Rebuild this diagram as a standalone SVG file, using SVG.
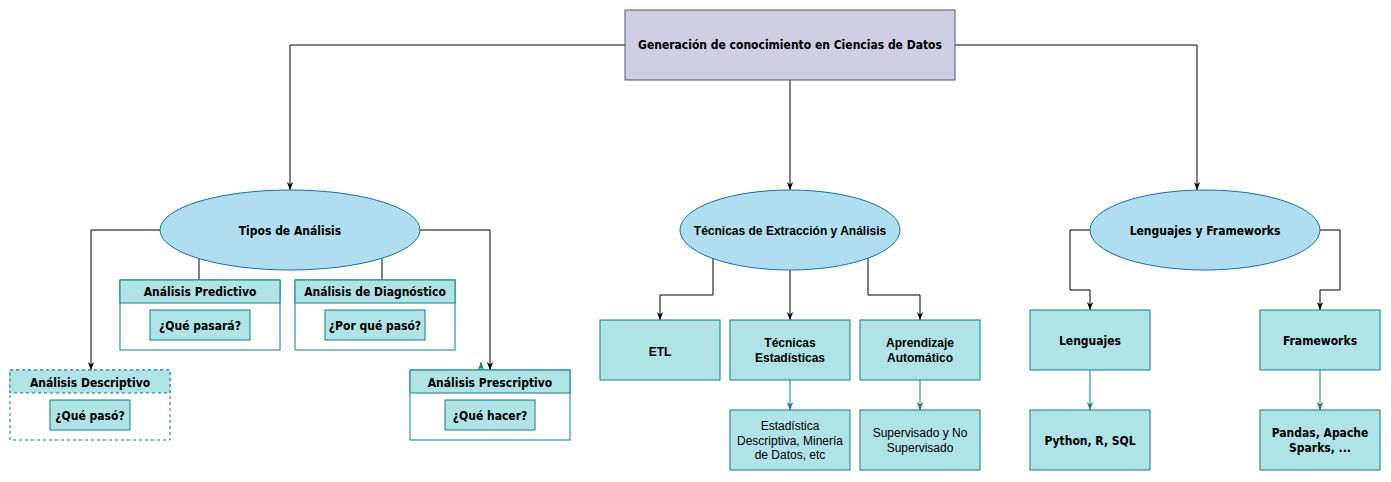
<svg xmlns="http://www.w3.org/2000/svg" width="1391" height="482" viewBox="0 0 1391 482">
<defs>
<marker id="ab" viewBox="0 0 10 10" refX="10" refY="5" markerWidth="8" markerHeight="8" markerUnits="userSpaceOnUse" orient="auto"><path d="M0,1 L10,5 L0,9 L3,5 z" fill="#000"/></marker>
<marker id="at" viewBox="0 0 10 10" refX="10" refY="5" markerWidth="8" markerHeight="8" markerUnits="userSpaceOnUse" orient="auto"><path d="M0,1 L10,5 L0,9 L3,5 z" fill="#0e8088"/></marker>
</defs>
<style>
.e{fill:none;stroke:#000;stroke-width:1}
.et{fill:none;stroke:#0e8088;stroke-width:1}
.ell{fill:#b1ddf0;stroke:#10739e;stroke-width:1}
.box{fill:#b0e3e6;stroke:#0e8088;stroke-width:1}
.body{fill:#fff;stroke:#0e8088;stroke-width:1}
.top{fill:#d0cee2;stroke:#56517e;stroke-width:1}
.t{font-family:"DejaVu Sans Condensed","DejaVu Sans",sans-serif;font-weight:bold;font-size:12px;fill:#000;text-anchor:middle;dominant-baseline:central}
.a{font-family:"Liberation Sans",Arial,sans-serif;font-weight:bold;font-size:12px;fill:#000;text-anchor:middle;dominant-baseline:central}
.r{font-family:"Liberation Sans",Arial,sans-serif;font-size:12px;fill:#000;text-anchor:middle;dominant-baseline:central}
</style>
<rect width="1391" height="482" fill="#fff"/>
<g id="connectors">
<path class="e" d="M625,45 H290 V190" marker-end="url(#ab)"/>
<path class="e" d="M790,80 V190" marker-end="url(#ab)"/>
<path class="e" d="M955,45 H1197 V190" marker-end="url(#ab)"/>
<path class="e" d="M160,230 H91 V370" marker-end="url(#ab)"/>
<path class="e" d="M420,230 H490 V370" marker-end="url(#ab)"/>
<path class="e" d="M199,258.6 V280"/>
<path class="e" d="M382,258.2 V280"/>
<path class="et" d="M481,370 V362" marker-end="url(#at)"/>
<path class="e" d="M713,258.5 V295 H660 V320" marker-end="url(#ab)"/>
<path class="e" d="M790,270 V320" marker-end="url(#ab)"/>
<path class="e" d="M868,258.2 V295 H920 V320" marker-end="url(#ab)"/>
<path class="et" d="M790,380 V410" marker-end="url(#at)"/>
<path class="et" d="M920,380 V410" marker-end="url(#at)"/>
<path class="e" d="M1090,230 H1070 V290 H1090 V310" marker-end="url(#ab)"/>
<path class="e" d="M1320,230 H1340 V290 H1320 V310" marker-end="url(#ab)"/>
<path class="et" d="M1090,370 V410" marker-end="url(#at)"/>
<path class="et" d="M1320,370 V410" marker-end="url(#at)"/>
</g>
<g id="root">
<rect class="top" x="625" y="10" width="330" height="70"/>
<text class="t" x="790" y="45">Generación de conocimiento en Ciencias de Datos</text>
</g>
<g id="tipos">
<ellipse class="ell" cx="290" cy="230" rx="130" ry="40"/>
<text class="t" x="290" y="231">Tipos de Análisis</text>
</g>
<g id="predictivo">
<rect class="body" x="120" y="280" width="160" height="70"/>
<rect class="box" x="120" y="280" width="160" height="23"/>
<text class="t" x="200" y="292">Análisis Predictivo</text>
<rect class="box" x="150" y="310" width="100" height="30"/>
<text class="t" x="200" y="326">¿Qué pasará?</text>
</g>
<g id="diagnostico">
<rect class="body" x="295" y="280" width="160" height="70"/>
<rect class="box" x="295" y="280" width="160" height="23"/>
<text class="t" x="375" y="292">Análisis de Diagnóstico</text>
<rect class="box" x="325" y="310" width="100" height="30"/>
<text class="t" x="375" y="326">¿Por qué pasó?</text>
</g>
<g id="descriptivo">
<rect x="10" y="370" width="160" height="70" fill="#fff" stroke="#0e8088" stroke-dasharray="3,3"/>
<rect x="10" y="370" width="160" height="23" fill="#b0e3e6" stroke="#0e8088" stroke-dasharray="3,3"/>
<text class="t" x="90" y="383">Análisis Descriptivo</text>
<rect class="box" x="50" y="400" width="80" height="30"/>
<text class="t" x="90" y="416">¿Qué pasó?</text>
</g>
<g id="prescriptivo">
<rect class="body" x="410" y="370" width="160" height="70"/>
<rect class="box" x="410" y="370" width="160" height="23"/>
<text class="t" x="490" y="383">Análisis Prescriptivo</text>
<rect class="box" x="445" y="400" width="90" height="30"/>
<text class="t" x="490" y="416">¿Qué hacer?</text>
</g>
<g id="tecnicas">
<ellipse class="ell" cx="790" cy="230" rx="110" ry="40"/>
<text class="a" x="790" y="231">Técnicas de Extracción y Análisis</text>
</g>
<g id="etl">
<rect class="box" x="600" y="320" width="120" height="60"/>
<text class="a" x="660" y="352">ETL</text>
</g>
<g id="tec-est">
<rect class="box" x="730" y="320" width="120" height="60"/>
<text class="a" x="790" y="343">Técnicas</text>
<text class="a" x="790" y="358">Estadísticas</text>
</g>
<g id="aprendizaje">
<rect class="box" x="860" y="320" width="120" height="60"/>
<text class="a" x="920" y="343">Aprendizaje</text>
<text class="a" x="920" y="358">Automático</text>
</g>
<g id="estadistica">
<rect class="box" x="730" y="410" width="120" height="60"/>
<text class="r" x="790" y="426">Estadística</text>
<text class="r" x="790" y="440.5">Descriptiva, Minería</text>
<text class="r" x="790" y="455">de Datos, etc</text>
</g>
<g id="supervisado">
<rect class="box" x="860" y="410" width="120" height="60"/>
<text class="r" x="920" y="433">Supervisado y No</text>
<text class="r" x="920" y="448">Supervisado</text>
</g>
<g id="lenguajes-fw">
<ellipse class="ell" cx="1205" cy="230" rx="115" ry="40"/>
<text class="t" x="1205" y="231">Lenguajes y Frameworks</text>
</g>
<g id="lenguajes">
<rect class="box" x="1030" y="310" width="120" height="60"/>
<text class="t" x="1090" y="341">Lenguajes</text>
</g>
<g id="frameworks">
<rect class="box" x="1260" y="310" width="120" height="60"/>
<text class="t" x="1320" y="341">Frameworks</text>
</g>
<g id="python">
<rect class="box" x="1030" y="410" width="120" height="60"/>
<text class="t" x="1090" y="441">Python, R, SQL</text>
</g>
<g id="pandas">
<rect class="box" x="1260" y="410" width="120" height="60"/>
<text class="t" x="1320" y="433">Pandas, Apache</text>
<text class="t" x="1320" y="448">Sparks, ...</text>
</g>
</svg>
